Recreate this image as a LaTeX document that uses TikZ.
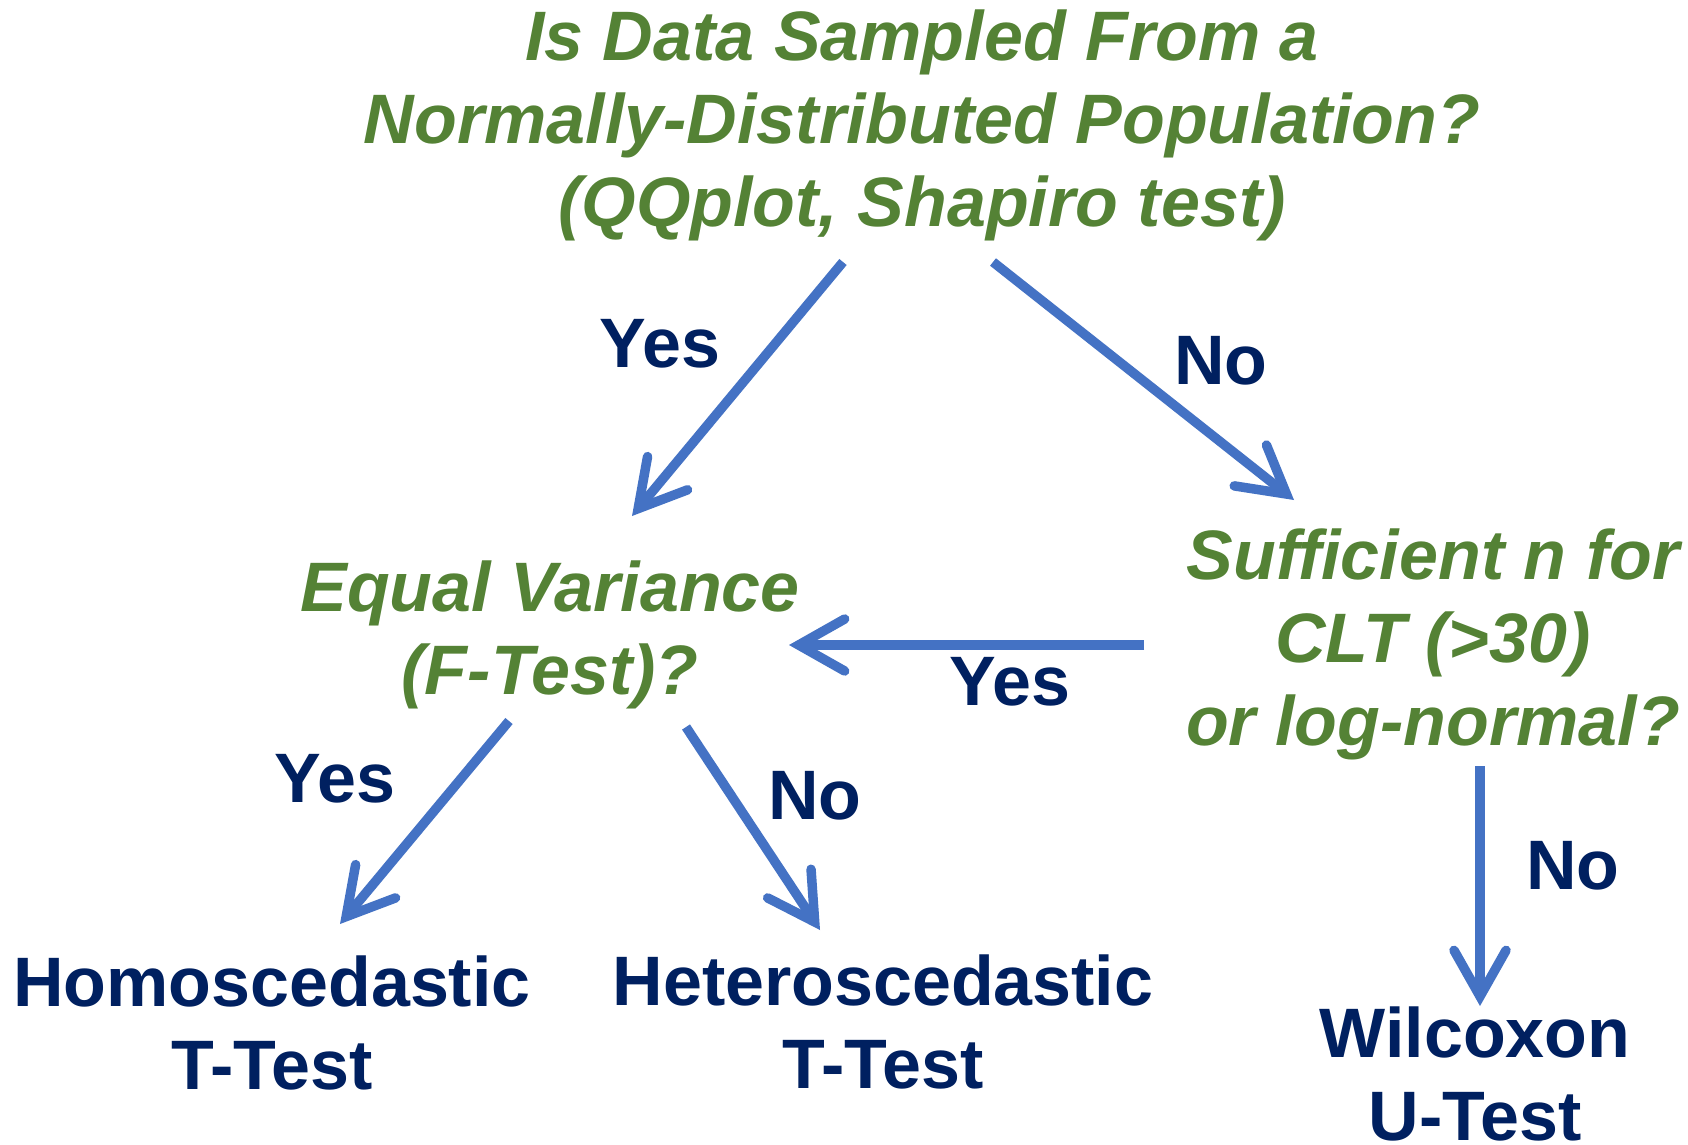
\documentclass[tikz,border=0pt]{standalone}
\usepackage{fontspec}
\setmainfont{Liberation Sans}
\usetikzlibrary{arrows.meta}
\definecolor{qgreen}{HTML}{548235}
\definecolor{navy}{HTML}{002060}
\definecolor{arrblue}{HTML}{4472C4}
\begin{document}
\begin{tikzpicture}[x=1pt,y=-1pt,
  bigfont/.style={font=\fontsize{70}{83}\selectfont\bfseries},
  question/.style={bigfont, font=\fontsize{70}{83}\selectfont\bfseries\itshape, text=qgreen, align=center, anchor=north, inner sep=0pt, outer sep=0pt},
  result/.style={bigfont, text=navy, align=center, anchor=north, inner sep=0pt, outer sep=0pt},
  lbl/.style={bigfont, text=navy, anchor=base, inner sep=0pt},
  arr/.style={draw=arrblue, line width=9.5pt,
    -{Straight Barb[length=46pt,width=52pt,line cap=round,line join=miter]}}]
\fill[white] (0,0) rectangle (1688,1144);
\useasboundingbox (0,0) rectangle (1688,1144);

% questions
\node[question] (q1) at (922,1.9) {\strut Is Data Sampled From a\\ \strut Normally-Distributed Population?\\ \strut(QQplot, Shapiro test)};
\node[question] (q2) at (550,552.9) {\strut Equal Variance\\ \strut(F-Test)?};
\node[question] (q3) at (1433,520.9) {\strut Sufficient n for\\ \strut CLT (>30)\\ \strut or log-normal?};

% results
\node[result] (r1) at (272,947.9) {\strut Homoscedastic\\ \strut T-Test};
\node[result] (r2) at (883,946.9) {\strut Heteroscedastic\\ \strut T-Test};
\node[result] (r3) at (1475,998.9) {\strut Wilcoxon\\ \strut U-Test};

% arrow end points
\coordinate (a1s) at (843,262);  \coordinate (a1e) at (632,516);
\coordinate (a2s) at (993,262);  \coordinate (a2e) at (1294,500);
\coordinate (a3s) at (1144,645); \coordinate (a3e) at (789,645);
\coordinate (a4s) at (509,721);  \coordinate (a4e) at (340,924);
\coordinate (a5s) at (686,727);  \coordinate (a5e) at (820,930);
\coordinate (a6s) at (1480,766); \coordinate (a6e) at (1480,1006);

\draw[arr] (a1s) -- (a1e);
\draw[arr] (a2s) -- (a2e);
\draw[arr] (a3s) -- (a3e);
\draw[arr] (a4s) -- (a4e);
\draw[arr] (a5s) -- (a5e);
\draw[arr] (a6s) -- (a6e);

% labels
\node[lbl] (l1) at (660,367) {Yes};
\node[lbl] (l2) at (1221,384) {No};
\node[lbl] (l3) at (1010,705) {Yes};
\node[lbl] (l4) at (335,802) {Yes};
\node[lbl] (l5) at (815,819) {No};
\node[lbl] (l6) at (1573,889) {No};
\end{tikzpicture}
\end{document}
